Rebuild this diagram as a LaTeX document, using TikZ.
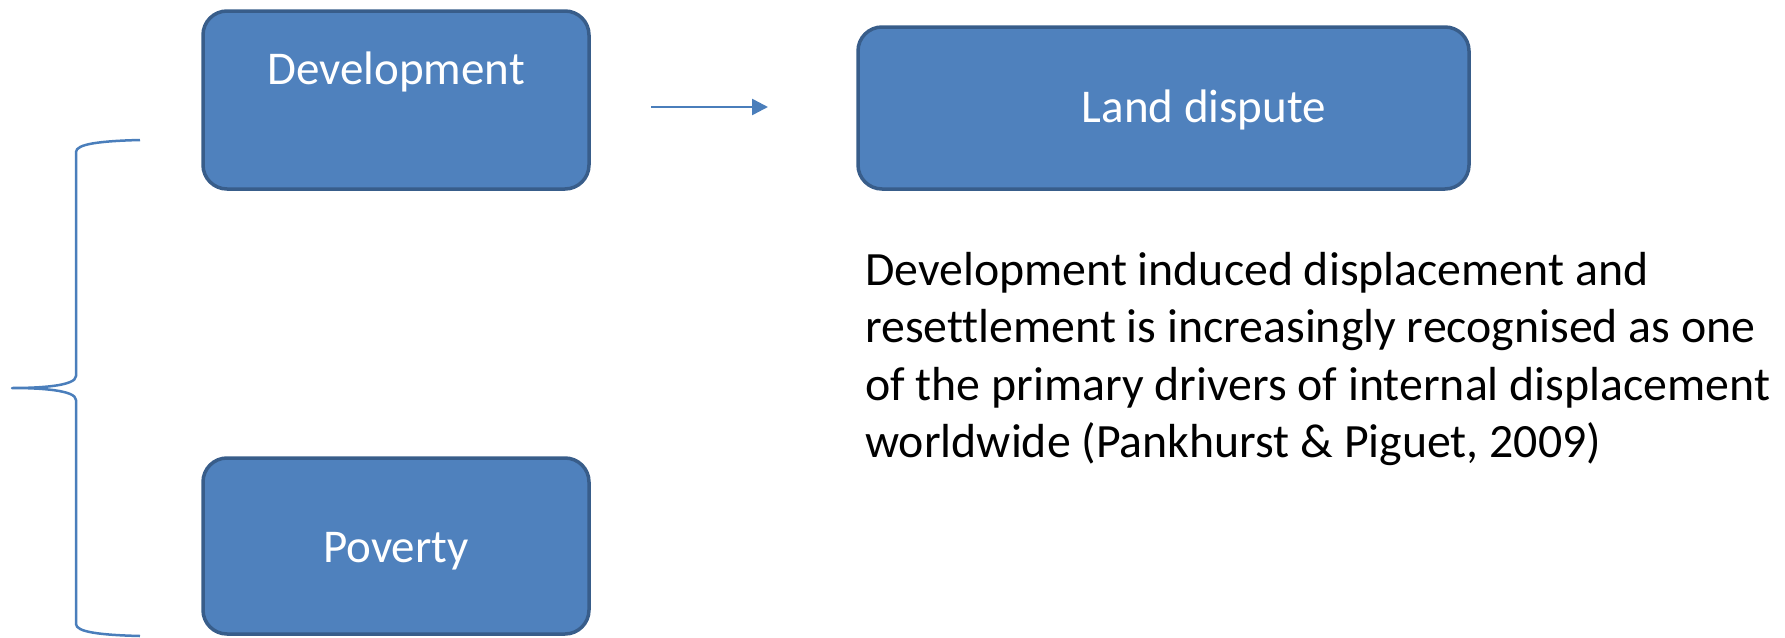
\documentclass[tikz,border=0pt]{standalone}
\usepackage{fontspec}
\setmainfont{Carlito}[Ligatures=NoCommon]
\usetikzlibrary{arrows.meta}
\definecolor{boxfill}{HTML}{4F81BD}
\definecolor{boxedge}{HTML}{385D8A}
\definecolor{lineblue}{HTML}{4A7EBB}
\tikzset{
  bluebox/.style={draw=boxedge, fill=boxfill, line width=3.5pt, rounded corners=24pt, inner sep=0pt},
  boxlabel/.style={text=white, font=\fontsize{47}{56}\selectfont, inner sep=0pt},
  bodytext/.style={text=black, font=\fontsize{47.8}{57.5}\selectfont, align=left, inner sep=0pt},
  connector/.style={draw=lineblue, line width=2.5pt},
  bracestyle/.style={draw=lineblue, line width=2.5pt}
}
\begin{document}
\begin{tikzpicture}[x=1pt,y=-1pt]
\useasboundingbox (0,0) rectangle (1785,637);
% boxes
\node[bluebox, minimum width=386pt, minimum height=178pt] (dev) at (396,100) {};
\node[bluebox, minimum width=611pt, minimum height=162pt] (land) at (1163.5,108) {};
\node[bluebox, minimum width=386pt, minimum height=176pt] (pov) at (396,546) {};
% labels
\node[boxlabel] (devtext) at (396,72) {Development};
\node[boxlabel] (landtext) at (1204,110) {Land dispute};
\node[boxlabel] (povtext) at (396,551) {Poverty};
% arrow
\coordinate (arrstart) at (651,107);
\coordinate (arrend) at (768,107);
\draw[connector, -{Triangle[length=16pt,width=16pt]}] (arrstart) -- (arrend);
% brace
\coordinate (bTop) at (140,140);
\coordinate (bTip) at (12,388);
\coordinate (bBot) at (140,636);
\draw[bracestyle, line join=round]
  (bTop) .. controls (100,141) and (76,144) .. (76,152)
  -- (76,376)
  .. controls (76,386) and (40,388) .. (bTip)
  .. controls (40,388) and (76,390) .. (76,400)
  -- (76,624)
  .. controls (76,632) and (100,635) .. (bBot);
% body text
\node[bodytext, anchor=west] (body) at (865,359) {Development induced displacement and\\resettlement is increasingly recognised as one\\of the primary drivers of internal displacement\\worldwide (Pankhurst \& Piguet, 2009)};
\end{tikzpicture}
\end{document}
